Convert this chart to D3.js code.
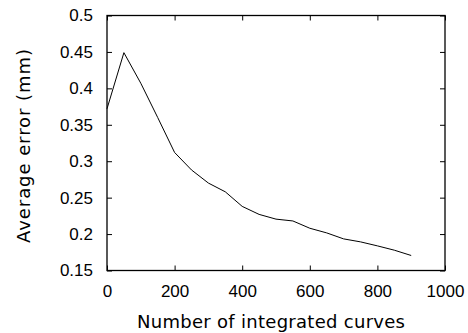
<!DOCTYPE html>
<html>
<head>
<meta charset="utf-8">
<script src="https://cdn.jsdelivr.net/npm/d3@7"></script>
<style>
  body { margin: 0; background: #fff; }
  svg { display: block; }
</style>
</head>
<body>
<div id="graph"></div>
<script>
// Data
const curves = [0, 50, 100, 150, 200, 250, 300, 350, 400, 450, 500, 550, 600, 650, 700, 750, 800, 850, 900]
const avgError = [0.372, 0.449, 0.407, 0.360, 0.312, 0.288, 0.270, 0.258, 0.238, 0.227, 0.2205, 0.218, 0.208, 0.2016, 0.1934, 0.1893, 0.1838, 0.1779, 0.1706]
const xTicks = [0, 200, 400, 600, 800, 1000]
const yTicks = [0.15, 0.2, 0.25, 0.3, 0.35, 0.4, 0.45, 0.5]

const W = 468, H = 333
const margin = { top: 15.5, right: 23, bottom: 62.5, left: 107 }
const width = W - margin.left - margin.right
const height = H - margin.top - margin.bottom

const svg = d3.select('#graph')
  .append('svg')
  .attr('width', W)
  .attr('height', H)
  .append('g')
  .attr('transform', 'translate(' + margin.left + ',' + margin.top + ')')

const x = d3.scaleLinear().domain([0, 1000]).range([0, width])
const y = d3.scaleLinear().domain([0.15, 0.5]).range([height, 0])

const tickFont = '"Liberation Sans", Arial, sans-serif'
const labelFont = '"DejaVu Sans", sans-serif'
const tickLen = 5

// Axes with inward ticks, mirrored on top and right
function styleAxis(g) {
  g.select('.domain').remove()
  g.selectAll('line').attr('stroke', '#000').attr('stroke-width', 1)
  g.selectAll('text').style('font-family', tickFont).style('font-size', '17px').attr('fill', '#000')
}

svg.append('g')
  .attr('transform', 'translate(0,' + height + ')')
  .call(d3.axisBottom(x).tickValues(xTicks).tickSize(-tickLen).tickPadding(14).tickFormat(d3.format('d')))
  .call(styleAxis)

svg.append('g')
  .call(d3.axisTop(x).tickValues(xTicks).tickSize(-tickLen).tickFormat(''))
  .call(styleAxis)

svg.append('g')
  .call(d3.axisLeft(y).tickValues(yTicks).tickSize(-tickLen).tickPadding(14).tickFormat(d => String(+d.toFixed(2))))
  .call(styleAxis)

svg.append('g')
  .attr('transform', 'translate(' + width + ',0)')
  .call(d3.axisRight(y).tickValues(yTicks).tickSize(-tickLen).tickFormat(''))
  .call(styleAxis)

// Frame
svg.append('rect')
  .attr('width', width)
  .attr('height', height)
  .attr('fill', 'none')
  .attr('stroke', '#000')
  .attr('stroke-width', 1.3)

// The line
const data = curves.map((c, i) => ({ c: c, v: avgError[i] }))
svg.append('path')
  .datum(data)
  .attr('fill', 'none')
  .attr('stroke', '#000')
  .attr('stroke-width', 1)
  .attr('d', d3.line()
    .x(d => x(d.c))
    .y(d => y(d.v))
  )

// Axis labels
svg.append('text')
  .attr('x', 271 - margin.left)
  .attr('y', 328 - margin.top)
  .attr('text-anchor', 'middle')
  .attr('textLength', 268)
  .attr('lengthAdjust', 'spacing')
  .style('font-family', labelFont)
  .style('font-size', '18px')
  .text('Number of integrated curves')

svg.append('text')
  .attr('transform', 'translate(' + (30 - margin.left) + ',' + (146 - margin.top) + ') rotate(-90)')
  .attr('text-anchor', 'middle')
  .attr('textLength', 194)
  .attr('lengthAdjust', 'spacing')
  .style('font-family', labelFont)
  .style('font-size', '18px')
  .text('Average error (mm)')
</script>
</body>
</html>
